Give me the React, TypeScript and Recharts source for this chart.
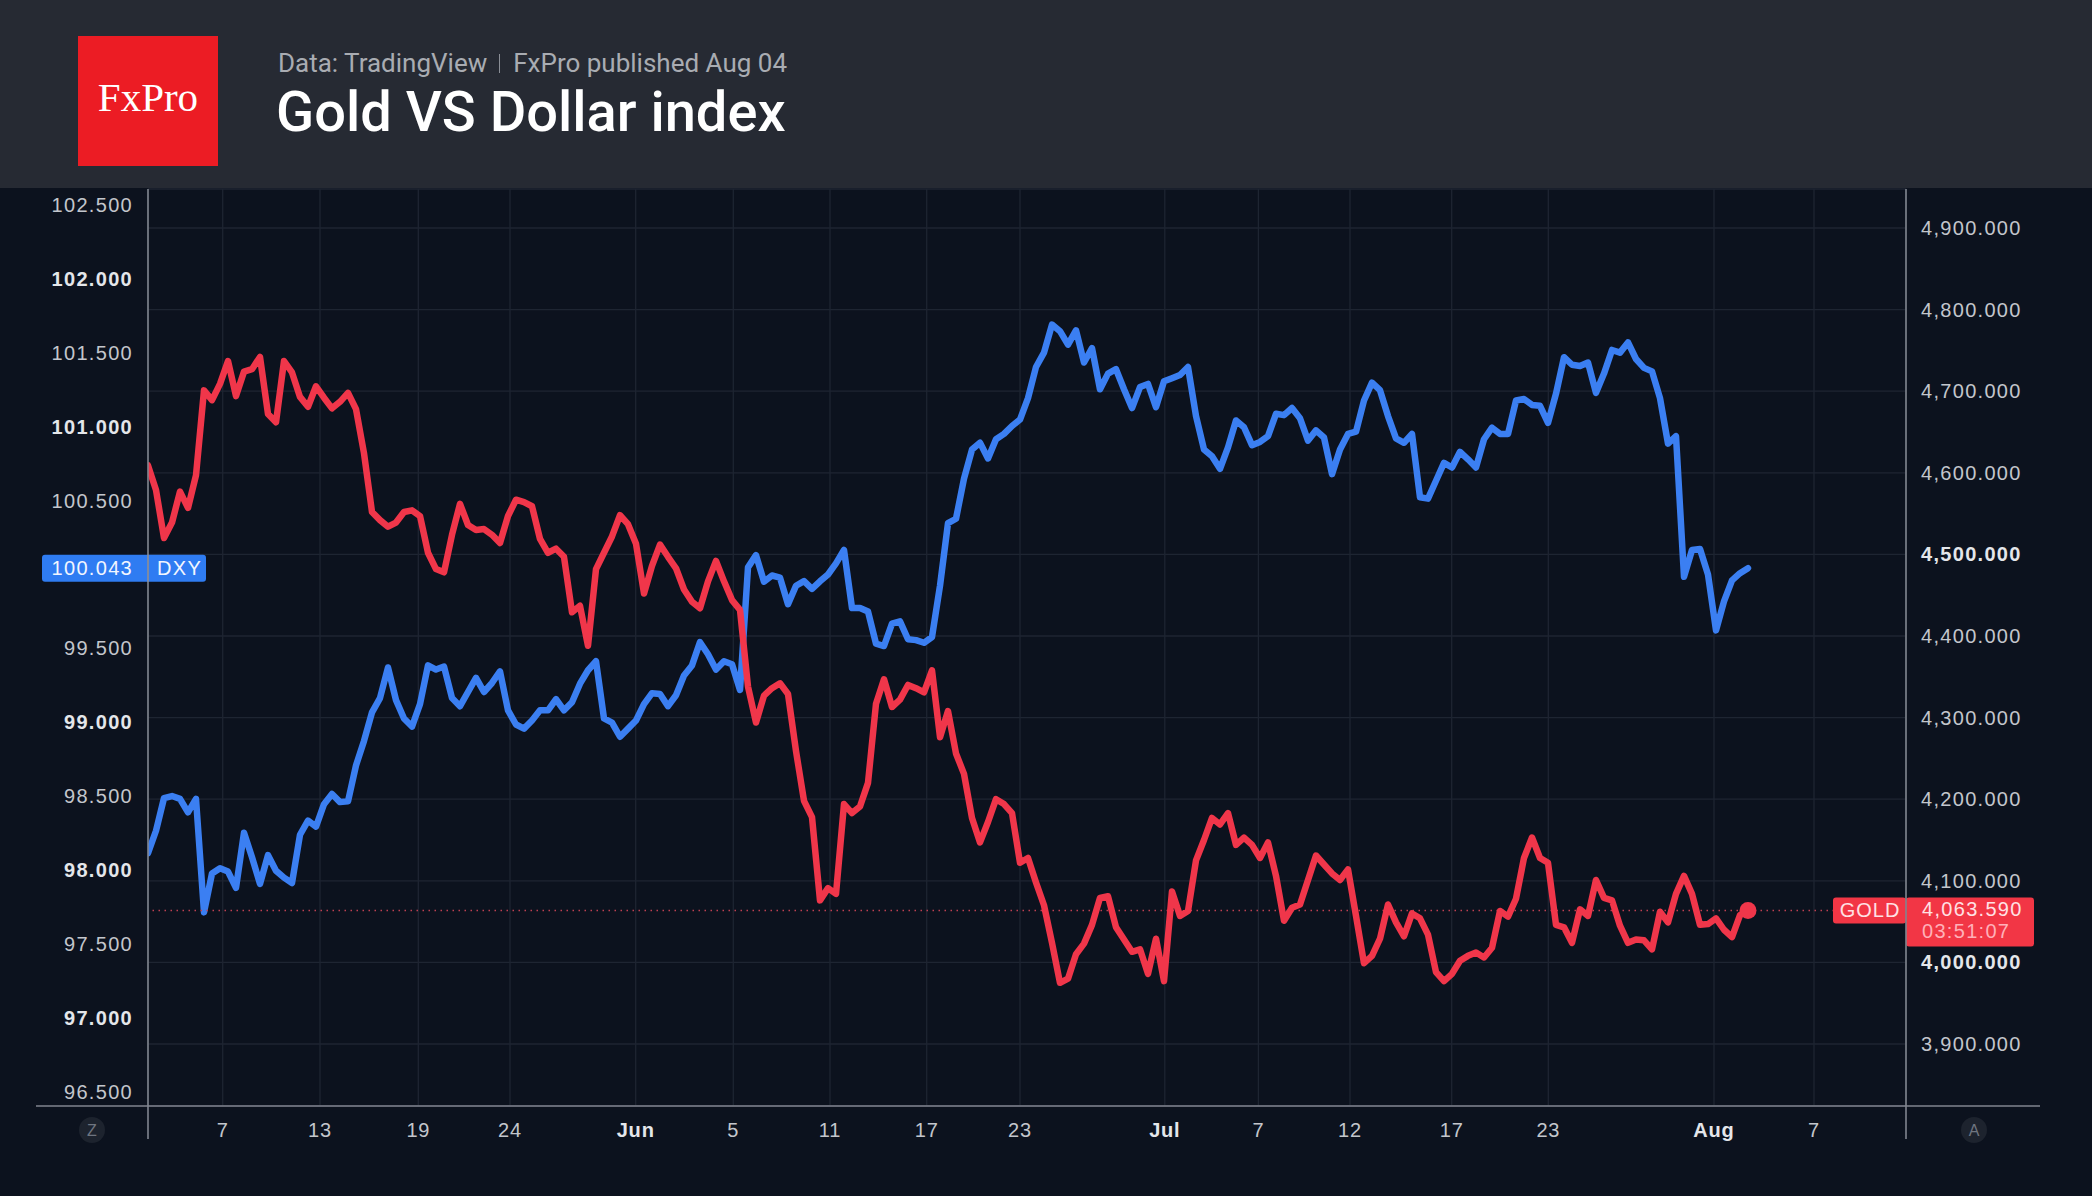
import React from "react";
import {
  LineChart,
  Line,
  XAxis,
  YAxis,
  CartesianGrid,
  ReferenceLine,
  ReferenceDot,
} from "recharts";

// US Dollar index (DXY), left scale, one reading per bar from early May to Aug 4
const dxy = [
  98.114, 98.266, 98.487, 98.501, 98.482, 98.391, 98.482, 97.714, 97.977, 98.012,
  97.99, 97.88, 98.253, 98.087, 97.907, 98.101, 97.996, 97.949, 97.913, 98.239,
  98.335, 98.294, 98.446, 98.515, 98.46, 98.465, 98.708, 98.874, 99.067, 99.164,
  99.371, 99.15, 99.026, 98.971, 99.123, 99.385, 99.357, 99.377, 99.164, 99.109,
  99.205, 99.3, 99.205, 99.266, 99.344, 99.081, 98.985, 98.957, 99.012, 99.081,
  99.081, 99.156, 99.081, 99.136, 99.261, 99.352, 99.413, 99.026, 98.998, 98.902,
  98.957, 99.012, 99.123, 99.197, 99.192, 99.109, 99.183, 99.316, 99.385, 99.542,
  99.46, 99.357, 99.413, 99.393, 99.219, 100.048, 100.131, 99.951, 99.993, 99.979,
  99.799, 99.924, 99.955, 99.903, 99.954, 100.0, 100.075, 100.166, 99.773, 99.773,
  99.749, 99.532, 99.516, 99.667, 99.683, 99.562, 99.556, 99.538, 99.577, 99.924,
  100.347, 100.377, 100.649, 100.845, 100.891, 100.785, 100.915, 100.951, 101.005, 101.048,
  101.193, 101.404, 101.501, 101.691, 101.646, 101.555, 101.652, 101.434, 101.531, 101.253,
  101.359, 101.389, 101.253, 101.126, 101.268, 101.289, 101.132, 101.307, 101.328, 101.35,
  101.404, 101.072, 100.845, 100.8, 100.715, 100.86, 101.042, 100.996, 100.875, 100.897,
  100.936, 101.087, 101.078, 101.126, 101.057, 100.906, 100.975, 100.927, 100.679, 100.845,
  100.951, 100.966, 101.177, 101.298, 101.247, 101.072, 100.921, 100.891, 100.951, 100.522,
  100.513, 100.634, 100.755, 100.724, 100.83, 100.779, 100.724, 100.915, 100.993, 100.951,
  100.951, 101.177, 101.187, 101.147, 101.141, 101.026, 101.223, 101.47, 101.419, 101.41,
  101.434, 101.229, 101.359, 101.519, 101.501, 101.57, 101.458, 101.398, 101.374, 101.193,
  100.885, 100.936, 99.985, 100.166, 100.172, 100.0, 99.622, 99.818, 99.96, 100.009,
  100.043,
];

// Gold, right scale, same bars
const gold = [
  4609, 4579, 4520, 4539, 4577, 4557, 4597, 4701, 4689, 4709,
  4737, 4694, 4724, 4727, 4742, 4672, 4662, 4737, 4723, 4693,
  4681, 4706, 4692, 4679, 4687, 4698, 4678, 4624, 4552, 4542,
  4534, 4539, 4552, 4554, 4547, 4502, 4482, 4478, 4524, 4562,
  4536, 4530, 4531, 4524, 4514, 4547, 4567, 4564, 4559, 4519,
  4502, 4507, 4497, 4429, 4437, 4388, 4482, 4502, 4522, 4548,
  4537, 4513, 4452, 4486, 4512, 4497, 4483, 4457, 4442, 4434,
  4467, 4492, 4467, 4444, 4432, 4338, 4294, 4327, 4336, 4342,
  4329, 4259, 4198, 4178, 4076, 4091, 4084, 4194, 4183, 4191,
  4220, 4317, 4347, 4313, 4322, 4340, 4336, 4331, 4358, 4276,
  4308, 4256, 4231, 4177, 4147, 4172, 4200, 4194, 4183, 4122,
  4128, 4098, 4070, 4024, 3975, 3980, 4010, 4023, 4046, 4079,
  4081, 4043, 4028, 4013, 4016, 3986, 4029, 3977, 4087, 4057,
  4063, 4125, 4150, 4177, 4169, 4183, 4144, 4153, 4144, 4128,
  4147, 4106, 4051, 4067, 4071, 4101, 4131, 4120, 4109, 4101,
  4114, 4057, 3999, 4008, 4029, 4071, 4049, 4032, 4060, 4054,
  4034, 3988, 3977, 3986, 4002, 4008, 4012, 4006, 4018, 4063,
  4056, 4078, 4128, 4153, 4128, 4122, 4046, 4043, 4024, 4065,
  4057, 4101, 4079, 4076, 4045, 4024, 4028, 4027, 4016, 4062,
  4049, 4084, 4106, 4084, 4046, 4047, 4054, 4040, 4031, 4058,
  4063.59,
];

// date ticks, positioned in bar units
const xTicks = [9.34, 21.5, 33.79, 45.25, 60.96, 73.16, 85.25, 97.34, 109, 127.1, 138.8, 150.25, 162.96, 175.04, 195.75, 208.25];
const xLabels = ["7", "13", "19", "24", "Jun", "5", "11", "17", "23", "Jul", "7", "12", "17", "23", "Aug", "7"];
const X_END = 219.75;

const dxyTicks = [96.5, 97, 97.5, 98, 98.5, 99, 99.5, 100.5, 101, 101.5, 102, 102.5];
const goldTicks = [3900, 4000, 4100, 4200, 4300, 4400, 4500, 4600, 4700, 4800, 4900];
const goldBold = [4000, 4500];

const DXY_LAST = 100.043;
const GOLD_LAST = 4063.59;
const GOLD_TIMER = "03:51:07";

const rows = dxy.map((d, i) => ({ i, dxy: d, gold: gold[i] }));

const BG = "#0c121e";
const HEADER = "#262a33";
const RED = "#f0364a";
const BLUE = "#3b7ff2";
const AXIS_FONT = "'Liberation Sans', Arial, sans-serif";

function LeftTick(props: any) {
  const { x, y, payload } = props;
  const v = payload.value as number;
  const bold = Number.isInteger(v);
  return (
    <text
      x={x}
      y={y}
      textAnchor="end"
      dominantBaseline="central"
      fontFamily={AXIS_FONT}
      fontSize={20}
      letterSpacing={1.3}
      fontWeight={bold ? 700 : 400}
      fill={bold ? "#e4e6ea" : "#c3c6cc"}
    >
      {v.toFixed(3)}
    </text>
  );
}

function RightTick(props: any) {
  const { x, y, payload } = props;
  const v = payload.value as number;
  const bold = goldBold.includes(v);
  return (
    <text
      x={x}
      y={y}
      textAnchor="start"
      dominantBaseline="central"
      fontFamily={AXIS_FONT}
      fontSize={20}
      letterSpacing={1.3}
      fontWeight={bold ? 700 : 400}
      fill={bold ? "#e4e6ea" : "#c3c6cc"}
    >
      {v.toLocaleString("en-US", { minimumFractionDigits: 3 })}
    </text>
  );
}

function DateTick(props: any) {
  const { x, y, payload } = props;
  const label = xLabels[xTicks.indexOf(payload.value)];
  const month = isNaN(Number(label));
  return (
    <text
      x={x}
      y={y}
      textAnchor="middle"
      dominantBaseline="central"
      fontFamily={AXIS_FONT}
      fontSize={20}
      letterSpacing={0.8}
      fontWeight={month ? 700 : 400}
      fill={month ? "#e4e6ea" : "#c3c6cc"}
    >
      {label}
    </text>
  );
}

function DxyBadge(props: any) {
  const { viewBox } = props;
  const x = viewBox.x;
  const y = viewBox.y;
  return (
    <g>
      <rect x={x - 106} y={y - 13.5} width={164} height={27} rx={3} fill="#2f7cf2" />
      <line x1={x} x2={x} y1={y - 13.5} y2={y + 13.5} stroke="#86aef5" strokeWidth={1.5} />
      <text x={x - 15} y={y} textAnchor="end" dominantBaseline="central" fontFamily={AXIS_FONT} fontSize={20} letterSpacing={1.3} fill="#f2f6ff">
        {DXY_LAST.toFixed(3)}
      </text>
      <text x={x + 9} y={y} textAnchor="start" dominantBaseline="central" fontFamily={AXIS_FONT} fontSize={20} letterSpacing={1.3} fill="#f2f6ff">
        DXY
      </text>
    </g>
  );
}

function GoldBadge(props: any) {
  const { viewBox } = props;
  const r = viewBox.x + viewBox.width;
  const y = viewBox.y;
  return (
    <g>
      <rect x={r - 73} y={y - 13} width={73} height={26} rx={3} fill="#f23645" />
      <text x={r - 36} y={y} textAnchor="middle" dominantBaseline="central" fontFamily={AXIS_FONT} fontSize={20} letterSpacing={1} fill="#ffe1e4">
        GOLD
      </text>
      <rect x={r} y={y - 13} width={128} height={49} rx={3} fill="#f23645" />
      <text x={r + 16} y={y - 1} textAnchor="start" dominantBaseline="central" fontFamily={AXIS_FONT} fontSize={20} letterSpacing={1.3} fill="#ffe1e4">
        {GOLD_LAST.toLocaleString("en-US", { minimumFractionDigits: 3 })}
      </text>
      <text x={r + 16} y={y + 21} textAnchor="start" dominantBaseline="central" fontFamily={AXIS_FONT} fontSize={20} letterSpacing={1.3} fill="#ffb0b9">
        {GOLD_TIMER}
      </text>
    </g>
  );
}

export default function App() {
  return (
    <div
      style={{
        position: "absolute",
        left: 0,
        top: 0,
        width: 2092,
        height: 1196,
        background: BG,
        overflow: "hidden",
        fontFamily: "Roboto, 'Noto Sans', sans-serif",
      }}
    >
      <div style={{ position: "absolute", left: 0, top: 0, width: 2092, height: 188, background: HEADER }} />
      <div
        style={{
          position: "absolute",
          left: 78,
          top: 36,
          width: 140,
          height: 130,
          background: "#ec1c24",
        }}
      >
        <div
          style={{
            position: "absolute",
            left: 0,
            width: 140,
            top: 41,
            textAlign: "center",
            fontFamily: "'Liberation Serif', 'Times New Roman', serif",
            fontSize: 41,
            lineHeight: "41px",
            color: "#ffffff",
          }}
        >
          FxPro
        </div>
      </div>
      <div
        style={{
          position: "absolute",
          left: 278,
          top: 50,
          fontSize: 26,
          lineHeight: "26px",
          color: "#a9acb2",
          whiteSpace: "nowrap",
          display: "flex",
          alignItems: "center",
        }}
      >
        <span>Data: TradingView</span>
        <span style={{ display: "inline-block", width: 1, height: 19, background: "#8a8e96", margin: "0 13px 0 12px" }} />
        <span>FxPro published Aug 04</span>
      </div>
      <div
        style={{
          position: "absolute",
          left: 276,
          top: 84,
          fontSize: 56,
          lineHeight: "56px",
          fontWeight: 500,
          color: "#ffffff",
          whiteSpace: "nowrap",
        }}
      >
        Gold VS Dollar index
      </div>

      <div style={{ position: "absolute", left: 0, top: 188 }}>
        <LineChart width={2092} height={1008} data={rows} margin={{ top: 1, right: 0, bottom: 0, left: 0 }}>
          <CartesianGrid stroke="#1e2532" strokeWidth={1.3} yAxisId="right" />
          <XAxis
            dataKey="i"
            type="number"
            domain={[0, X_END]}
            ticks={xTicks}
            interval={0}
            allowDataOverflow
            axisLine={false}
            tickLine={false}
            tickSize={0}
            tickMargin={24}
            height={90}
            tick={<DateTick />}
          />
          <YAxis
            yAxisId="left"
            orientation="left"
            type="number"
            domain={[96.404, 102.608]}
            ticks={dxyTicks}
            interval={0}
            allowDataOverflow
            width={148}
            axisLine={false}
            tickLine={false}
            tickSize={0}
            tickMargin={15}
            tick={<LeftTick />}
          />
          <YAxis
            yAxisId="right"
            orientation="right"
            type="number"
            domain={[3824, 4947.8]}
            ticks={goldTicks}
            interval={0}
            allowDataOverflow
            width={186}
            axisLine={false}
            tickLine={false}
            tickSize={0}
            tickMargin={15}
            tick={<RightTick />}
          />
          <Line
            yAxisId="left"
            dataKey="dxy"
            type="linear"
            stroke={BLUE}
            strokeWidth={6.5}
            strokeLinejoin="round"
            strokeLinecap="round"
            dot={false}
            isAnimationActive={false}
          />
          <ReferenceLine
            yAxisId="right"
            y={GOLD_LAST}
            stroke="#c04052"
            strokeWidth={1.5}
            strokeDasharray="1.5 4.5"
            label={<GoldBadge />}
          />
          <Line
            yAxisId="right"
            dataKey="gold"
            type="linear"
            stroke={RED}
            strokeWidth={6.5}
            strokeLinejoin="round"
            strokeLinecap="round"
            dot={false}
            isAnimationActive={false}
          />
          <ReferenceDot yAxisId="right" x={rows.length - 1} y={GOLD_LAST} r={8.5} fill={RED} stroke="none" />
          <ReferenceLine yAxisId="left" y={DXY_LAST} stroke="none" label={<DxyBadge />} />
        </LineChart>
      </div>

      <svg
        width={2092}
        height={1196}
        style={{ position: "absolute", left: 0, top: 0, pointerEvents: "none" }}
      >
        <line x1={148} x2={148} y1={189} y2={1139} stroke="#80858f" strokeWidth={1.6} />
        <line x1={1906} x2={1906} y1={189} y2={1139} stroke="#80858f" strokeWidth={1.6} />
        <line x1={36} x2={2040} y1={1106} y2={1106} stroke="#80858f" strokeWidth={1.6} />
        <circle cx={92} cy={1130} r={13} fill="#1d232e" />
        <text x={92} y={1130} textAnchor="middle" dominantBaseline="central" fontFamily={AXIS_FONT} fontSize={16} fill="#6f7580">
          Z
        </text>
        <circle cx={1974} cy={1130} r={13} fill="#1d232e" />
        <text x={1974} y={1130} textAnchor="middle" dominantBaseline="central" fontFamily={AXIS_FONT} fontSize={16} fill="#6f7580">
          A
        </text>
      </svg>
    </div>
  );
}
